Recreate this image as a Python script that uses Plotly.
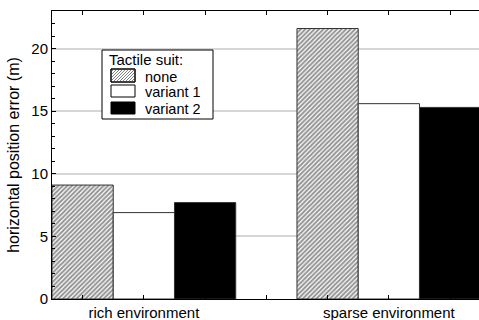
import plotly.graph_objects as go

# Mean horizontal position error per environment and tactile-suit condition
environments = ["rich environment", "sparse environment"]
conditions = ["none", "variant 1", "variant 2"]
err_none = [9.1, 21.6]
err_variant1 = [6.9, 15.6]
err_variant2 = [7.7, 15.3]
legend_title = "Tactile suit:"

x_pos = [0, 1]
series = [err_none, err_variant1, err_variant2]
HATCH = "#262626"
fills = [
    dict(color="white", pattern=dict(shape="/", fgcolor=HATCH, bgcolor="white",
                                     size=3.2, solidity=0.62)),
    dict(color="white"),
    dict(color="black"),
]

font_family = "Liberation Sans, Arial, Helvetica, sans-serif"

# plot-area geometry (pixels) used to place the hand-built legend box
W, H = 479, 320
ML, MR, MT, MB = 52, 0, 11, 21
PW, PH = W - ML - MR, H - MT - MB


def px(x):
    return (x - ML) / PW


def py(y):
    return (H - MB - y) / PH


fig = go.Figure()
for name, vals, st in zip(conditions, series, fills):
    fig.add_trace(go.Bar(
        x=x_pos, y=vals, name=name, showlegend=False,
        marker=dict(line=dict(color="#333333", width=1), **st),
    ))

shapes = []
annotations = []

# legend frame
box = (102, 50, 213, 119)
shapes.append(dict(type="rect", xref="paper", yref="paper", layer="above",
                   x0=px(box[0]), x1=px(box[2]), y0=py(box[3]), y1=py(box[1]),
                   line=dict(color="black", width=1), fillcolor="white"))
annotations.append(dict(text=legend_title, xref="paper", yref="paper",
                        x=px(108), y=py(60), xanchor="left", yanchor="middle",
                        height=15, borderpad=0,
                        showarrow=False, font=dict(size=15)))

# legend swatches and labels
sw_x0, sw_x1 = 111, 135
rows = [(69, 82), (85, 97), (102, 114)]
for i, (name, (ya, yb)) in enumerate(zip(conditions, rows)):
    fill = "black" if i == 2 else "white"
    shapes.append(dict(type="rect", xref="paper", yref="paper", layer="above",
                       x0=px(sw_x0), x1=px(sw_x1), y0=py(yb), y1=py(ya),
                       line=dict(color="black", width=1), fillcolor=fill))
    if i == 0:
        # diagonal hatching inside the first swatch
        segs = []
        k = sw_x0 + ya
        while k <= sw_x1 + yb:
            y1 = max(ya, k - sw_x1)
            y2 = min(yb, k - sw_x0)
            if y2 > y1:
                segs.append(f"M{px(k - y1):.5f},{py(y1):.5f}L{px(k - y2):.5f},{py(y2):.5f}")
            k += 3
        shapes.append(dict(type="path", xref="paper", yref="paper", layer="above",
                           path="".join(segs), line=dict(color="#808080", width=1)))
        shapes.append(dict(type="rect", xref="paper", yref="paper", layer="above",
                           x0=px(sw_x0), x1=px(sw_x1), y0=py(yb), y1=py(ya),
                           line=dict(color="black", width=1)))
    annotations.append(dict(text=name, xref="paper", yref="paper",
                            x=px(144), y=py((ya + yb) / 2 + 0.5),
                            xanchor="left", yanchor="middle",
                            height=15, borderpad=0,
                            showarrow=False, font=dict(size=14.5)))

fig.update_layout(
    width=W, height=H,
    margin=dict(l=ML, r=MR, t=MT, b=MB),
    paper_bgcolor="white", plot_bgcolor="white",
    barmode="group", bargap=0.25, bargroupgap=0,
    font=dict(family=font_family, size=15, color="black"),
    showlegend=False,
    shapes=shapes, annotations=annotations,
)

fig.update_xaxes(
    range=[-0.375, 1.368],
    tickvals=x_pos, ticktext=environments,
    ticks="inside", ticklen=4, tickcolor="black",
    minor=dict(dtick=0.25, tick0=0, ticks="inside", ticklen=4, tickcolor="black"),
    showline=True, linecolor="black", linewidth=1, mirror="ticks",
    showgrid=False, zeroline=False,
    tickfont=dict(size=15),
)
fig.update_yaxes(
    range=[0, 23],
    dtick=5, tick0=0,
    ticks="inside", ticklen=4, tickcolor="black",
    minor=dict(dtick=1, ticks="inside", ticklen=3, tickcolor="black", showgrid=False),
    showline=True, linecolor="black", linewidth=1,
    showgrid=True, gridcolor="#d6d6d6", gridwidth=1.5,
    zeroline=False,
    tickfont=dict(size=15),
    title=dict(text="horizontal position error (m)", font=dict(size=16), standoff=7),
)

fig.write_html("out.html")
